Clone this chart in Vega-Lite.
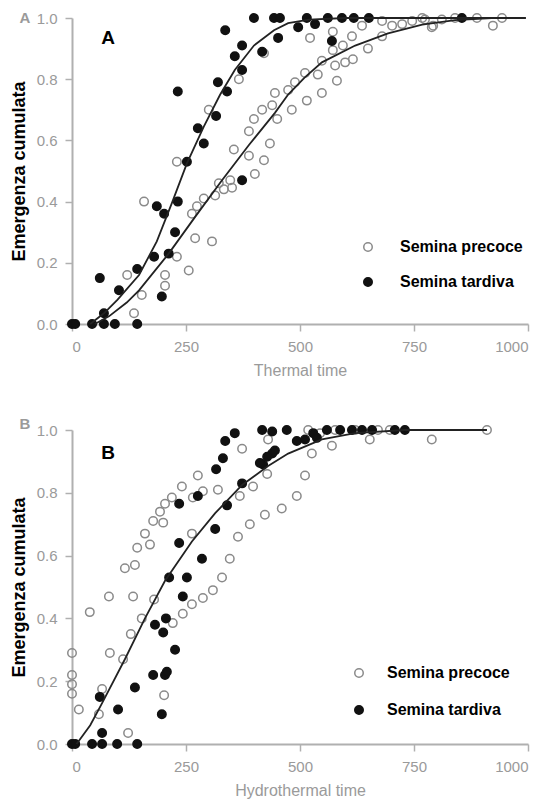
{
  "$schema": "https://vega.github.io/schema/vega-lite/v6.json",
  "background": "white",
  "padding": {"left": 10, "top": 10, "right": 5, "bottom": 5},
  "config": {
    "font": "Liberation Sans",
    "view": {"stroke": null},
    "axis": {"grid": false, "domainColor": "#b0b0b0", "domainWidth": 2, "tickColor": "#b0b0b0", "tickWidth": 1.5, "tickSize": 7, "labelColor": "#9a9a9a", "labelFontSize": 15, "labelPadding": 8},
    "axisX": {"titleColor": "#9a9a9a", "titleFontSize": 16, "titleFontWeight": "normal", "titlePadding": 8},
    "axisY": {"titleColor": "black", "titleFontSize": 18, "titleFontWeight": "bold", "titlePadding": 8}
  },
  "spacing": 38,
  "datasets": {
    "pts": [
      {"panel": "A", "semina": "Semina precoce", "t": 136, "e": 0.035},
      {"panel": "A", "semina": "Semina precoce", "t": 121, "e": 0.16},
      {"panel": "A", "semina": "Semina precoce", "t": 153, "e": 0.095},
      {"panel": "A", "semina": "Semina precoce", "t": 158, "e": 0.4},
      {"panel": "A", "semina": "Semina precoce", "t": 204, "e": 0.16},
      {"panel": "A", "semina": "Semina precoce", "t": 204, "e": 0.125},
      {"panel": "A", "semina": "Semina precoce", "t": 230, "e": 0.22},
      {"panel": "A", "semina": "Semina precoce", "t": 256, "e": 0.175},
      {"panel": "A", "semina": "Semina precoce", "t": 270, "e": 0.28},
      {"panel": "A", "semina": "Semina precoce", "t": 307, "e": 0.27},
      {"panel": "A", "semina": "Semina precoce", "t": 230, "e": 0.53},
      {"panel": "A", "semina": "Semina precoce", "t": 300, "e": 0.7},
      {"panel": "A", "semina": "Semina precoce", "t": 366, "e": 0.8},
      {"panel": "A", "semina": "Semina precoce", "t": 263, "e": 0.36},
      {"panel": "A", "semina": "Semina precoce", "t": 274, "e": 0.385},
      {"panel": "A", "semina": "Semina precoce", "t": 289, "e": 0.41},
      {"panel": "A", "semina": "Semina precoce", "t": 314, "e": 0.42},
      {"panel": "A", "semina": "Semina precoce", "t": 333, "e": 0.44},
      {"panel": "A", "semina": "Semina precoce", "t": 322, "e": 0.46},
      {"panel": "A", "semina": "Semina precoce", "t": 351, "e": 0.445},
      {"panel": "A", "semina": "Semina precoce", "t": 347, "e": 0.47},
      {"panel": "A", "semina": "Semina precoce", "t": 355, "e": 0.57},
      {"panel": "A", "semina": "Semina precoce", "t": 388, "e": 0.55},
      {"panel": "A", "semina": "Semina precoce", "t": 401, "e": 0.49},
      {"panel": "A", "semina": "Semina precoce", "t": 421, "e": 0.535},
      {"panel": "A", "semina": "Semina precoce", "t": 388, "e": 0.63},
      {"panel": "A", "semina": "Semina precoce", "t": 399, "e": 0.67},
      {"panel": "A", "semina": "Semina precoce", "t": 434, "e": 0.59},
      {"panel": "A", "semina": "Semina precoce", "t": 417, "e": 0.7},
      {"panel": "A", "semina": "Semina precoce", "t": 439, "e": 0.715},
      {"panel": "A", "semina": "Semina precoce", "t": 450, "e": 0.67},
      {"panel": "A", "semina": "Semina precoce", "t": 445, "e": 0.755},
      {"panel": "A", "semina": "Semina precoce", "t": 421, "e": 0.885},
      {"panel": "A", "semina": "Semina precoce", "t": 482, "e": 0.7},
      {"panel": "A", "semina": "Semina precoce", "t": 515, "e": 0.73},
      {"panel": "A", "semina": "Semina precoce", "t": 548, "e": 0.755},
      {"panel": "A", "semina": "Semina precoce", "t": 474, "e": 0.765},
      {"panel": "A", "semina": "Semina precoce", "t": 489, "e": 0.79},
      {"panel": "A", "semina": "Semina precoce", "t": 511, "e": 0.82},
      {"panel": "A", "semina": "Semina precoce", "t": 539, "e": 0.815},
      {"panel": "A", "semina": "Semina precoce", "t": 581, "e": 0.795},
      {"panel": "A", "semina": "Semina precoce", "t": 548, "e": 0.86},
      {"panel": "A", "semina": "Semina precoce", "t": 577, "e": 0.845},
      {"panel": "A", "semina": "Semina precoce", "t": 599, "e": 0.855},
      {"panel": "A", "semina": "Semina precoce", "t": 616, "e": 0.865},
      {"panel": "A", "semina": "Semina precoce", "t": 572, "e": 0.895},
      {"panel": "A", "semina": "Semina precoce", "t": 594, "e": 0.91},
      {"panel": "A", "semina": "Semina precoce", "t": 614, "e": 0.94},
      {"panel": "A", "semina": "Semina precoce", "t": 649, "e": 0.9},
      {"panel": "A", "semina": "Semina precoce", "t": 636, "e": 0.975},
      {"panel": "A", "semina": "Semina precoce", "t": 522, "e": 0.935},
      {"panel": "A", "semina": "Semina precoce", "t": 572, "e": 0.955},
      {"panel": "A", "semina": "Semina precoce", "t": 680, "e": 0.99},
      {"panel": "A", "semina": "Semina precoce", "t": 680, "e": 0.94},
      {"panel": "A", "semina": "Semina precoce", "t": 702, "e": 0.975},
      {"panel": "A", "semina": "Semina precoce", "t": 724, "e": 0.98},
      {"panel": "A", "semina": "Semina precoce", "t": 746, "e": 0.99},
      {"panel": "A", "semina": "Semina precoce", "t": 789, "e": 0.97},
      {"panel": "A", "semina": "Semina precoce", "t": 774, "e": 0.995},
      {"panel": "A", "semina": "Semina precoce", "t": 811, "e": 0.995},
      {"panel": "A", "semina": "Semina precoce", "t": 840, "e": 1.0},
      {"panel": "A", "semina": "Semina precoce", "t": 888, "e": 1.0},
      {"panel": "A", "semina": "Semina precoce", "t": 943, "e": 1.0},
      {"panel": "A", "semina": "Semina precoce", "t": 923, "e": 0.975},
      {"panel": "A", "semina": "Semina precoce", "t": 768, "e": 1.0},
      {"panel": "A", "semina": "Semina precoce", "t": 792, "e": 0.975},
      {"panel": "A", "semina": "Semina tardiva", "t": 0, "e": 0},
      {"panel": "A", "semina": "Semina tardiva", "t": 7, "e": 0},
      {"panel": "A", "semina": "Semina tardiva", "t": 44, "e": 0},
      {"panel": "A", "semina": "Semina tardiva", "t": 70, "e": 0},
      {"panel": "A", "semina": "Semina tardiva", "t": 94, "e": 0},
      {"panel": "A", "semina": "Semina tardiva", "t": 143, "e": 0},
      {"panel": "A", "semina": "Semina tardiva", "t": 70, "e": 0.035},
      {"panel": "A", "semina": "Semina tardiva", "t": 61, "e": 0.15},
      {"panel": "A", "semina": "Semina tardiva", "t": 103, "e": 0.11},
      {"panel": "A", "semina": "Semina tardiva", "t": 143, "e": 0.18},
      {"panel": "A", "semina": "Semina tardiva", "t": 197, "e": 0.09},
      {"panel": "A", "semina": "Semina tardiva", "t": 180, "e": 0.22},
      {"panel": "A", "semina": "Semina tardiva", "t": 212, "e": 0.23},
      {"panel": "A", "semina": "Semina tardiva", "t": 226, "e": 0.3},
      {"panel": "A", "semina": "Semina tardiva", "t": 186, "e": 0.385},
      {"panel": "A", "semina": "Semina tardiva", "t": 202, "e": 0.36},
      {"panel": "A", "semina": "Semina tardiva", "t": 232, "e": 0.4},
      {"panel": "A", "semina": "Semina tardiva", "t": 252, "e": 0.53},
      {"panel": "A", "semina": "Semina tardiva", "t": 289, "e": 0.59},
      {"panel": "A", "semina": "Semina tardiva", "t": 276, "e": 0.64},
      {"panel": "A", "semina": "Semina tardiva", "t": 316, "e": 0.68},
      {"panel": "A", "semina": "Semina tardiva", "t": 232, "e": 0.76},
      {"panel": "A", "semina": "Semina tardiva", "t": 340, "e": 0.76},
      {"panel": "A", "semina": "Semina tardiva", "t": 320, "e": 0.79},
      {"panel": "A", "semina": "Semina tardiva", "t": 373, "e": 0.83},
      {"panel": "A", "semina": "Semina tardiva", "t": 357, "e": 0.875},
      {"panel": "A", "semina": "Semina tardiva", "t": 373, "e": 0.91},
      {"panel": "A", "semina": "Semina tardiva", "t": 336, "e": 0.96},
      {"panel": "A", "semina": "Semina tardiva", "t": 373, "e": 0.47},
      {"panel": "A", "semina": "Semina tardiva", "t": 417, "e": 0.89},
      {"panel": "A", "semina": "Semina tardiva", "t": 399, "e": 1.0},
      {"panel": "A", "semina": "Semina tardiva", "t": 443, "e": 1.0},
      {"panel": "A", "semina": "Semina tardiva", "t": 452, "e": 0.935},
      {"panel": "A", "semina": "Semina tardiva", "t": 456, "e": 1.0},
      {"panel": "A", "semina": "Semina tardiva", "t": 496, "e": 0.97},
      {"panel": "A", "semina": "Semina tardiva", "t": 515, "e": 1.0},
      {"panel": "A", "semina": "Semina tardiva", "t": 533, "e": 0.98},
      {"panel": "A", "semina": "Semina tardiva", "t": 561, "e": 1.0},
      {"panel": "A", "semina": "Semina tardiva", "t": 592, "e": 1.0},
      {"panel": "A", "semina": "Semina tardiva", "t": 618, "e": 1.0},
      {"panel": "A", "semina": "Semina tardiva", "t": 651, "e": 1.0},
      {"panel": "A", "semina": "Semina tardiva", "t": 570, "e": 0.925},
      {"panel": "A", "semina": "Semina tardiva", "t": 855, "e": 1.0},
      {"panel": "B", "semina": "Semina precoce", "t": 0, "e": 0.29},
      {"panel": "B", "semina": "Semina precoce", "t": 0, "e": 0.22},
      {"panel": "B", "semina": "Semina precoce", "t": 0, "e": 0.19},
      {"panel": "B", "semina": "Semina precoce", "t": 0, "e": 0.16},
      {"panel": "B", "semina": "Semina precoce", "t": 15, "e": 0.11},
      {"panel": "B", "semina": "Semina precoce", "t": 39, "e": 0.42},
      {"panel": "B", "semina": "Semina precoce", "t": 81, "e": 0.47},
      {"panel": "B", "semina": "Semina precoce", "t": 134, "e": 0.47},
      {"panel": "B", "semina": "Semina precoce", "t": 83, "e": 0.29},
      {"panel": "B", "semina": "Semina precoce", "t": 66, "e": 0.175},
      {"panel": "B", "semina": "Semina precoce", "t": 59, "e": 0.095},
      {"panel": "B", "semina": "Semina precoce", "t": 123, "e": 0.035},
      {"panel": "B", "semina": "Semina precoce", "t": 202, "e": 0.155},
      {"panel": "B", "semina": "Semina precoce", "t": 112, "e": 0.27},
      {"panel": "B", "semina": "Semina precoce", "t": 116, "e": 0.56},
      {"panel": "B", "semina": "Semina precoce", "t": 138, "e": 0.57},
      {"panel": "B", "semina": "Semina precoce", "t": 129, "e": 0.35},
      {"panel": "B", "semina": "Semina precoce", "t": 153, "e": 0.4},
      {"panel": "B", "semina": "Semina precoce", "t": 180, "e": 0.46},
      {"panel": "B", "semina": "Semina precoce", "t": 143, "e": 0.625},
      {"panel": "B", "semina": "Semina precoce", "t": 171, "e": 0.635},
      {"panel": "B", "semina": "Semina precoce", "t": 160, "e": 0.67},
      {"panel": "B", "semina": "Semina precoce", "t": 178, "e": 0.71},
      {"panel": "B", "semina": "Semina precoce", "t": 200, "e": 0.705},
      {"panel": "B", "semina": "Semina precoce", "t": 193, "e": 0.74},
      {"panel": "B", "semina": "Semina precoce", "t": 219, "e": 0.785},
      {"panel": "B", "semina": "Semina precoce", "t": 241, "e": 0.82},
      {"panel": "B", "semina": "Semina precoce", "t": 204, "e": 0.765},
      {"panel": "B", "semina": "Semina precoce", "t": 276, "e": 0.855},
      {"panel": "B", "semina": "Semina precoce", "t": 265, "e": 0.785},
      {"panel": "B", "semina": "Semina precoce", "t": 287, "e": 0.805},
      {"panel": "B", "semina": "Semina precoce", "t": 320, "e": 0.81},
      {"panel": "B", "semina": "Semina precoce", "t": 373, "e": 0.94},
      {"panel": "B", "semina": "Semina precoce", "t": 263, "e": 0.67},
      {"panel": "B", "semina": "Semina precoce", "t": 346, "e": 0.59},
      {"panel": "B", "semina": "Semina precoce", "t": 329, "e": 0.53},
      {"panel": "B", "semina": "Semina precoce", "t": 309, "e": 0.49},
      {"panel": "B", "semina": "Semina precoce", "t": 287, "e": 0.465},
      {"panel": "B", "semina": "Semina precoce", "t": 263, "e": 0.445},
      {"panel": "B", "semina": "Semina precoce", "t": 243, "e": 0.415},
      {"panel": "B", "semina": "Semina precoce", "t": 221, "e": 0.385},
      {"panel": "B", "semina": "Semina precoce", "t": 364, "e": 0.66},
      {"panel": "B", "semina": "Semina precoce", "t": 390, "e": 0.7},
      {"panel": "B", "semina": "Semina precoce", "t": 423, "e": 0.73},
      {"panel": "B", "semina": "Semina precoce", "t": 368, "e": 0.79},
      {"panel": "B", "semina": "Semina precoce", "t": 397, "e": 0.82},
      {"panel": "B", "semina": "Semina precoce", "t": 428, "e": 0.86},
      {"panel": "B", "semina": "Semina precoce", "t": 430, "e": 0.97},
      {"panel": "B", "semina": "Semina precoce", "t": 511, "e": 0.855},
      {"panel": "B", "semina": "Semina precoce", "t": 493, "e": 0.79},
      {"panel": "B", "semina": "Semina precoce", "t": 460, "e": 0.75},
      {"panel": "B", "semina": "Semina precoce", "t": 526, "e": 0.925},
      {"panel": "B", "semina": "Semina precoce", "t": 570, "e": 0.95},
      {"panel": "B", "semina": "Semina precoce", "t": 653, "e": 0.97},
      {"panel": "B", "semina": "Semina precoce", "t": 789, "e": 0.97},
      {"panel": "B", "semina": "Semina precoce", "t": 518, "e": 1.0},
      {"panel": "B", "semina": "Semina precoce", "t": 544, "e": 0.99},
      {"panel": "B", "semina": "Semina precoce", "t": 577, "e": 1.0},
      {"panel": "B", "semina": "Semina precoce", "t": 621, "e": 1.0},
      {"panel": "B", "semina": "Semina precoce", "t": 671, "e": 1.0},
      {"panel": "B", "semina": "Semina precoce", "t": 697, "e": 1.0},
      {"panel": "B", "semina": "Semina precoce", "t": 910, "e": 1.0},
      {"panel": "B", "semina": "Semina tardiva", "t": 0, "e": 0},
      {"panel": "B", "semina": "Semina tardiva", "t": 7, "e": 0},
      {"panel": "B", "semina": "Semina tardiva", "t": 44, "e": 0},
      {"panel": "B", "semina": "Semina tardiva", "t": 66, "e": 0},
      {"panel": "B", "semina": "Semina tardiva", "t": 99, "e": 0},
      {"panel": "B", "semina": "Semina tardiva", "t": 143, "e": 0},
      {"panel": "B", "semina": "Semina tardiva", "t": 66, "e": 0.035},
      {"panel": "B", "semina": "Semina tardiva", "t": 61, "e": 0.15},
      {"panel": "B", "semina": "Semina tardiva", "t": 101, "e": 0.11},
      {"panel": "B", "semina": "Semina tardiva", "t": 138, "e": 0.18},
      {"panel": "B", "semina": "Semina tardiva", "t": 197, "e": 0.095},
      {"panel": "B", "semina": "Semina tardiva", "t": 178, "e": 0.22},
      {"panel": "B", "semina": "Semina tardiva", "t": 204, "e": 0.22},
      {"panel": "B", "semina": "Semina tardiva", "t": 208, "e": 0.23},
      {"panel": "B", "semina": "Semina tardiva", "t": 226, "e": 0.3},
      {"panel": "B", "semina": "Semina tardiva", "t": 182, "e": 0.38},
      {"panel": "B", "semina": "Semina tardiva", "t": 200, "e": 0.355},
      {"panel": "B", "semina": "Semina tardiva", "t": 206, "e": 0.4},
      {"panel": "B", "semina": "Semina tardiva", "t": 243, "e": 0.47},
      {"panel": "B", "semina": "Semina tardiva", "t": 213, "e": 0.53},
      {"panel": "B", "semina": "Semina tardiva", "t": 252, "e": 0.53},
      {"panel": "B", "semina": "Semina tardiva", "t": 285, "e": 0.59},
      {"panel": "B", "semina": "Semina tardiva", "t": 235, "e": 0.64},
      {"panel": "B", "semina": "Semina tardiva", "t": 314, "e": 0.685},
      {"panel": "B", "semina": "Semina tardiva", "t": 340, "e": 0.76},
      {"panel": "B", "semina": "Semina tardiva", "t": 235, "e": 0.765},
      {"panel": "B", "semina": "Semina tardiva", "t": 276, "e": 0.79},
      {"panel": "B", "semina": "Semina tardiva", "t": 316, "e": 0.875},
      {"panel": "B", "semina": "Semina tardiva", "t": 331, "e": 0.91},
      {"panel": "B", "semina": "Semina tardiva", "t": 336, "e": 0.965},
      {"panel": "B", "semina": "Semina tardiva", "t": 357, "e": 0.99},
      {"panel": "B", "semina": "Semina tardiva", "t": 373, "e": 0.83},
      {"panel": "B", "semina": "Semina tardiva", "t": 417, "e": 1.0},
      {"panel": "B", "semina": "Semina tardiva", "t": 419, "e": 0.89},
      {"panel": "B", "semina": "Semina tardiva", "t": 439, "e": 0.925},
      {"panel": "B", "semina": "Semina tardiva", "t": 439, "e": 0.995},
      {"panel": "B", "semina": "Semina tardiva", "t": 412, "e": 0.895},
      {"panel": "B", "semina": "Semina tardiva", "t": 428, "e": 0.915},
      {"panel": "B", "semina": "Semina tardiva", "t": 445, "e": 0.935},
      {"panel": "B", "semina": "Semina tardiva", "t": 471, "e": 1.0},
      {"panel": "B", "semina": "Semina tardiva", "t": 493, "e": 0.965},
      {"panel": "B", "semina": "Semina tardiva", "t": 511, "e": 0.97},
      {"panel": "B", "semina": "Semina tardiva", "t": 529, "e": 0.99},
      {"panel": "B", "semina": "Semina tardiva", "t": 537, "e": 0.975},
      {"panel": "B", "semina": "Semina tardiva", "t": 559, "e": 1.0},
      {"panel": "B", "semina": "Semina tardiva", "t": 588, "e": 1.0},
      {"panel": "B", "semina": "Semina tardiva", "t": 614, "e": 1.0},
      {"panel": "B", "semina": "Semina tardiva", "t": 636, "e": 1.0},
      {"panel": "B", "semina": "Semina tardiva", "t": 658, "e": 1.0},
      {"panel": "B", "semina": "Semina tardiva", "t": 708, "e": 1.0},
      {"panel": "B", "semina": "Semina tardiva", "t": 730, "e": 1.0}
    ],
    "fit": [
      {"panel": "A", "curve": "precoce", "t": 50, "e": 0},
      {"panel": "A", "curve": "precoce", "t": 81, "e": 0.025},
      {"panel": "A", "curve": "precoce", "t": 120, "e": 0.07},
      {"panel": "A", "curve": "precoce", "t": 147, "e": 0.11},
      {"panel": "A", "curve": "precoce", "t": 212, "e": 0.23},
      {"panel": "A", "curve": "precoce", "t": 270, "e": 0.35},
      {"panel": "A", "curve": "precoce", "t": 329, "e": 0.47},
      {"panel": "A", "curve": "precoce", "t": 388, "e": 0.585},
      {"panel": "A", "curve": "precoce", "t": 445, "e": 0.69},
      {"panel": "A", "curve": "precoce", "t": 474, "e": 0.75},
      {"panel": "A", "curve": "precoce", "t": 510, "e": 0.805},
      {"panel": "A", "curve": "precoce", "t": 548, "e": 0.855},
      {"panel": "A", "curve": "precoce", "t": 621, "e": 0.91},
      {"panel": "A", "curve": "precoce", "t": 693, "e": 0.95},
      {"panel": "A", "curve": "precoce", "t": 768, "e": 0.978},
      {"panel": "A", "curve": "precoce", "t": 840, "e": 0.993},
      {"panel": "A", "curve": "precoce", "t": 920, "e": 1.0},
      {"panel": "A", "curve": "precoce", "t": 995, "e": 1.0},
      {"panel": "A", "curve": "tardiva", "t": 40, "e": 0},
      {"panel": "A", "curve": "tardiva", "t": 70, "e": 0.035},
      {"panel": "A", "curve": "tardiva", "t": 100, "e": 0.08},
      {"panel": "A", "curve": "tardiva", "t": 147, "e": 0.16},
      {"panel": "A", "curve": "tardiva", "t": 186, "e": 0.27},
      {"panel": "A", "curve": "tardiva", "t": 219, "e": 0.395},
      {"panel": "A", "curve": "tardiva", "t": 252, "e": 0.525},
      {"panel": "A", "curve": "tardiva", "t": 289, "e": 0.645},
      {"panel": "A", "curve": "tardiva", "t": 325, "e": 0.75},
      {"panel": "A", "curve": "tardiva", "t": 357, "e": 0.83},
      {"panel": "A", "curve": "tardiva", "t": 399, "e": 0.91},
      {"panel": "A", "curve": "tardiva", "t": 443, "e": 0.96},
      {"panel": "A", "curve": "tardiva", "t": 474, "e": 0.983},
      {"panel": "A", "curve": "tardiva", "t": 520, "e": 0.995},
      {"panel": "A", "curve": "tardiva", "t": 600, "e": 1.0},
      {"panel": "A", "curve": "tardiva", "t": 995, "e": 1.0},
      {"panel": "B", "curve": "fit", "t": 10, "e": 0},
      {"panel": "B", "curve": "fit", "t": 40, "e": 0.06},
      {"panel": "B", "curve": "fit", "t": 66, "e": 0.13},
      {"panel": "B", "curve": "fit", "t": 116, "e": 0.27},
      {"panel": "B", "curve": "fit", "t": 160, "e": 0.4},
      {"panel": "B", "curve": "fit", "t": 204, "e": 0.52},
      {"panel": "B", "curve": "fit", "t": 263, "e": 0.645},
      {"panel": "B", "curve": "fit", "t": 314, "e": 0.735},
      {"panel": "B", "curve": "fit", "t": 373, "e": 0.825},
      {"panel": "B", "curve": "fit", "t": 430, "e": 0.885},
      {"panel": "B", "curve": "fit", "t": 474, "e": 0.925},
      {"panel": "B", "curve": "fit", "t": 548, "e": 0.97},
      {"panel": "B", "curve": "fit", "t": 621, "e": 0.99},
      {"panel": "B", "curve": "fit", "t": 730, "e": 1.0},
      {"panel": "B", "curve": "fit", "t": 910, "e": 1.0}
    ]
  },
  "vconcat": [
    {
      "width": 456,
      "height": 306,
      "layer": [
        {
          "data": {"name": "pts"},
          "transform": [{"filter": "datum.panel === 'A'"}],
          "mark": {"type": "point", "shape": "circle", "size": 72, "strokeWidth": 1.5, "opacity": 1},
          "encoding": {
            "x": {"field": "t", "type": "quantitative", "scale": {"domain": [0, 1000], "nice": false, "zero": false}, "axis": {"values": [0, 250, 500, 750, 1000], "format": "d"}, "title": "Thermal time"},
            "y": {"field": "e", "type": "quantitative", "scale": {"domain": [0, 1], "nice": false}, "axis": {"values": [0, 0.2, 0.4, 0.6, 0.8, 1], "format": ".1f"}, "title": "Emergenza cumulata"},
            "fill": {"field": "semina", "type": "nominal", "scale": {"domain": ["Semina precoce", "Semina tardiva"], "range": ["transparent", "#111111"]}, "legend": {"title": null, "orient": "none", "legendX": 288, "legendY": 221, "labelFontSize": 16, "labelFontWeight": "bold", "labelColor": "black", "symbolSize": 72, "symbolStrokeWidth": 1.5, "rowPadding": 19, "labelOffset": 24, "padding": 0}},
            "stroke": {"field": "semina", "type": "nominal", "scale": {"domain": ["Semina precoce", "Semina tardiva"], "range": ["#8a8a8a", "#111111"]}, "legend": {"title": null, "orient": "none", "legendX": 288, "legendY": 221, "labelFontSize": 16, "labelFontWeight": "bold", "labelColor": "black", "symbolSize": 72, "symbolStrokeWidth": 1.5, "rowPadding": 19, "labelOffset": 24, "padding": 0}}
          }
        },
        {
          "data": {"name": "fit"},
          "transform": [{"filter": "datum.panel === 'A'"}],
          "mark": {"type": "line", "color": "#222222", "strokeWidth": 1.8},
          "encoding": {
            "x": {"field": "t", "type": "quantitative", "title": "Thermal time"},
            "y": {"field": "e", "type": "quantitative", "title": "Emergenza cumulata"},
            "detail": {"field": "curve", "type": "nominal"}
          }
        },
        {
          "data": {"values": [{}]},
          "mark": {"type": "text", "text": "A", "fontSize": 19, "fontWeight": "bold", "color": "black", "align": "center", "baseline": "middle"},
          "encoding": {
            "x": {"datum": 79, "type": "quantitative", "title": "Thermal time"},
            "y": {"datum": 0.935, "type": "quantitative", "title": "Emergenza cumulata"}
          }
        },
        {
          "data": {"values": [{}]},
          "mark": {"type": "text", "text": "A", "fontSize": 15, "fontWeight": "bold", "color": "#9a9a9a", "align": "center", "baseline": "middle"},
          "encoding": {
            "x": {"datum": -103, "type": "quantitative", "title": "Thermal time"},
            "y": {"datum": 1.0, "type": "quantitative", "title": "Emergenza cumulata"}
          }
        }
      ]
    },
    {
      "width": 456,
      "height": 314,
      "layer": [
        {
          "data": {"name": "pts"},
          "transform": [{"filter": "datum.panel === 'B'"}],
          "mark": {"type": "point", "shape": "circle", "size": 72, "strokeWidth": 1.5, "opacity": 1},
          "encoding": {
            "x": {"field": "t", "type": "quantitative", "scale": {"domain": [0, 1000], "nice": false, "zero": false}, "axis": {"values": [0, 250, 500, 750, 1000], "format": "d"}, "title": "Hydrothermal time"},
            "y": {"field": "e", "type": "quantitative", "scale": {"domain": [0, 1], "nice": false}, "axis": {"values": [0, 0.2, 0.4, 0.6, 0.8, 1], "format": ".1f"}, "title": "Emergenza cumulata"},
            "fill": {"field": "semina", "type": "nominal", "scale": {"domain": ["Semina precoce", "Semina tardiva"], "range": ["transparent", "#111111"]}, "legend": {"title": null, "orient": "none", "legendX": 279, "legendY": 235, "labelFontSize": 16, "labelFontWeight": "bold", "labelColor": "black", "symbolSize": 72, "symbolStrokeWidth": 1.5, "rowPadding": 21, "labelOffset": 20, "padding": 0}},
            "stroke": {"field": "semina", "type": "nominal", "scale": {"domain": ["Semina precoce", "Semina tardiva"], "range": ["#8a8a8a", "#111111"]}, "legend": {"title": null, "orient": "none", "legendX": 279, "legendY": 235, "labelFontSize": 16, "labelFontWeight": "bold", "labelColor": "black", "symbolSize": 72, "symbolStrokeWidth": 1.5, "rowPadding": 21, "labelOffset": 20, "padding": 0}}
          }
        },
        {
          "data": {"name": "fit"},
          "transform": [{"filter": "datum.panel === 'B'"}],
          "mark": {"type": "line", "color": "#222222", "strokeWidth": 1.8},
          "encoding": {
            "x": {"field": "t", "type": "quantitative", "title": "Hydrothermal time"},
            "y": {"field": "e", "type": "quantitative", "title": "Emergenza cumulata"},
            "detail": {"field": "curve", "type": "nominal"}
          }
        },
        {
          "data": {"values": [{}]},
          "mark": {"type": "text", "text": "B", "fontSize": 19, "fontWeight": "bold", "color": "black", "align": "center", "baseline": "middle"},
          "encoding": {
            "x": {"datum": 79, "type": "quantitative", "title": "Hydrothermal time"},
            "y": {"datum": 0.927, "type": "quantitative", "title": "Emergenza cumulata"}
          }
        },
        {
          "data": {"values": [{}]},
          "mark": {"type": "text", "text": "B", "fontSize": 15, "fontWeight": "bold", "color": "#9a9a9a", "align": "center", "baseline": "middle"},
          "encoding": {
            "x": {"datum": -103, "type": "quantitative", "title": "Hydrothermal time"},
            "y": {"datum": 1.02, "type": "quantitative", "title": "Emergenza cumulata"}
          }
        }
      ]
    }
  ],
  "resolve": {
    "scale": {"fill": "independent", "stroke": "independent"},
    "legend": {"fill": "independent", "stroke": "independent"}
  }
}
